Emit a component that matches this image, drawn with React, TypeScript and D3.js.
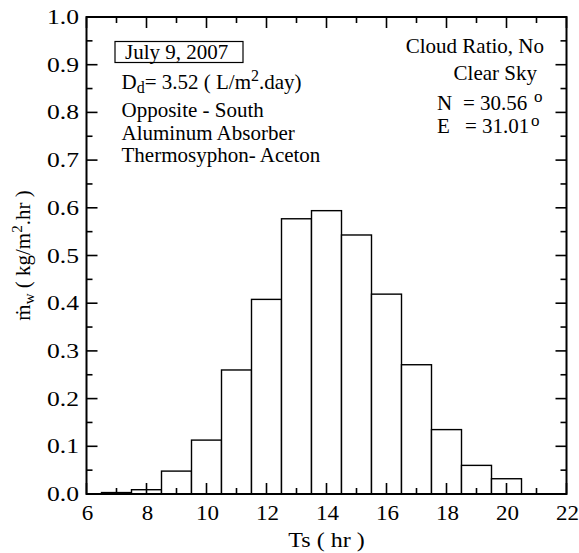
import React from "react";
import * as d3 from "d3";

// Hourly condensate productivity (kg/m².hr), one bar per solar hour
const hours = [7, 8, 9, 10, 11, 12, 13, 14, 15, 16, 17, 18, 19, 20, 21];
const productivity = [0.003, 0.009, 0.048, 0.113, 0.26, 0.408, 0.577, 0.594, 0.543, 0.419, 0.271, 0.135, 0.06, 0.032, 0];

const xTickValues = [6, 8, 10, 12, 14, 16, 18, 20, 22];
const yTickValues = [0, 0.1, 0.2, 0.3, 0.4, 0.5, 0.6, 0.7, 0.8, 0.9, 1.0];

const infoLines = ["Opposite - South", "Aluminum Absorber", "Thermosyphon- Aceton"];

const W = 579;
const H = 553;
const left = 86.5;
const right = 566.5;
const top = 17;
const bottom = 494;
const FONT = "'Liberation Serif', 'Times New Roman', serif";

export default function App() {
  const x = d3.scaleLinear().domain([6, 22]).range([left, right]);
  const y = d3.scaleLinear().domain([0, 1]).range([bottom, top]);

  const xMinor = d3.range(6, 22.01, 1);
  const yMinor = d3.range(0, 1.001, 0.05);
  const fmt = d3.format(".1f");
  const majorLen = 11;
  const minorLen = 6;

  const isMajorX = (v: number) => Math.abs(v / 2 - Math.round(v / 2)) < 1e-6;
  const isMajorY = (v: number) => Math.abs(v * 10 - Math.round(v * 10)) < 1e-6;

  return (
    <svg
      width={W}
      height={H}
      style={{ position: "absolute", left: 0, top: 0, background: "#fff", fontFamily: FONT }}
    >
      <rect x={0} y={0} width={W} height={H} fill="#fff" />

      {/* bars */}
      {hours.map((h, i) => (
        <rect
          key={h}
          x={x(h - 0.5)}
          y={y(productivity[i])}
          width={x(h + 0.5) - x(h - 0.5)}
          height={y(0) - y(productivity[i])}
          fill="#fff"
          stroke="#000"
          strokeWidth={1.4}
        />
      ))}

      {/* ticks on all four sides, pointing inward */}
      <g stroke="#000" strokeWidth={1.6}>
        {xMinor.map((v) => {
          const len = isMajorX(v) ? majorLen : minorLen;
          return (
            <g key={"xt" + v}>
              <line x1={x(v)} x2={x(v)} y1={bottom} y2={bottom - len} />
              <line x1={x(v)} x2={x(v)} y1={top} y2={top + len} />
            </g>
          );
        })}
        {yMinor.map((v) => {
          const len = isMajorY(v) ? majorLen : minorLen;
          return (
            <g key={"yt" + v}>
              <line x1={left} x2={left + len} y1={y(v)} y2={y(v)} />
              <line x1={right} x2={right - len} y1={y(v)} y2={y(v)} />
            </g>
          );
        })}
      </g>

      {/* frame */}
      <rect
        x={left}
        y={top}
        width={right - left}
        height={bottom - top}
        fill="none"
        stroke="#000"
        strokeWidth={2}
      />

      {/* tick labels */}
      <g fontSize={20} fill="#000">
        {xTickValues.map((v) => (
          <text
            key={"xl" + v}
            transform={`translate(${x(v) + 1}, 520) scale(1.15, 1)`}
            textAnchor="middle"
          >
            {v}
          </text>
        ))}
        {yTickValues.map((v) => (
          <text
            key={"yl" + v}
            transform={`translate(79, ${y(v)}) scale(1.28, 1)`}
            dy="0.35em"
            textAnchor="end"
          >
            {fmt(v)}
          </text>
        ))}
      </g>

      {/* axis titles */}
      <text
        transform={`translate(${(left + right) / 2}, 547) scale(1.2, 1)`}
        textAnchor="middle"
        fontSize={20}
      >
        Ts ( hr )
      </text>
      <text
        transform={`translate(30, ${(top + bottom) / 2}) rotate(-90)`}
        textAnchor="middle"
        fontSize={21}
      >
        ṁ
        <tspan fontSize={15} dy={4}>w</tspan>
        <tspan dy={-4}> ( kg/m</tspan>
        <tspan fontSize={15} dy={-8}>2</tspan>
        <tspan dy={8}>.hr )</tspan>
      </text>

      {/* left annotation block */}
      <rect x={115} y={41.5} width={128} height={21} fill="#fff" stroke="#000" strokeWidth={1.2} />
      <g fontSize={21}>
        <text x={125} y={59}>July 9, 2007</text>
        <text x={121.5} y={89}>
          D
          <tspan fontSize={16} dy={4}>d</tspan>
          <tspan dy={-4}>= 3.52 ( L/m</tspan>
          <tspan fontSize={16} dy={-8}>2</tspan>
          <tspan dy={8}>.day)</tspan>
        </text>
        {infoLines.map((t, i) => (
          <text key={t} x={121.5} y={117 + i * 22.5}>
            {t}
          </text>
        ))}
      </g>

      {/* right annotation block */}
      <g fontSize={21}>
        <text x={544} y={53} textAnchor="end">Cloud Ratio, No</text>
        <text x={537} y={80} textAnchor="end">Clear Sky</text>
        <text x={437} y={110}>N</text>
        <text x={463} y={110}>= 30.56</text>
        <text x={534} y={102} fontSize={17}>o</text>
        <text x={437} y={133}>E</text>
        <text x={465} y={133}>= 31.01</text>
        <text x={531} y={126} fontSize={17}>o</text>
      </g>
    </svg>
  );
}
